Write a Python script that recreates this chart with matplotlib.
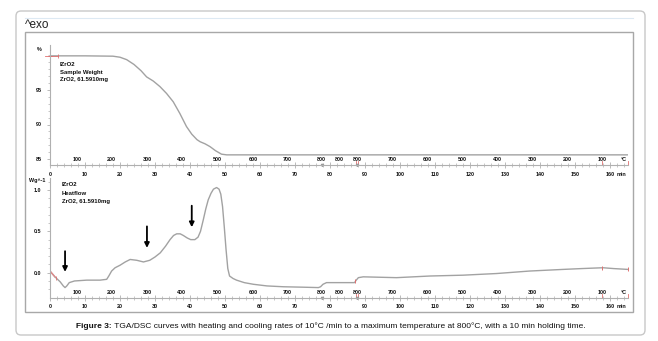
import matplotlib
matplotlib.use('Agg')
import matplotlib.pyplot as plt
from matplotlib.patches import FancyBboxPatch, Rectangle
from matplotlib.lines import Line2D
from matplotlib.transforms import IdentityTransform
from matplotlib.ticker import FixedLocator

plt.rcParams['font.family'] = ['Liberation Sans', 'DejaVu Sans']

# ---------------- data ----------------
tga_time = [0, 10, 18, 20, 21.9, 24, 26, 27.6, 29.5, 31.4, 33.3, 35.2, 37.1, 39.0,
            40.5, 42.0, 42.9, 44.3, 45.7, 47.3, 49.0, 50.5, 165]
tga_weight = [99.95, 99.95, 99.9, 99.75, 99.4, 98.7, 97.8, 96.9, 96.3, 95.5, 94.5, 93.3,
              91.6, 89.7, 88.6, 87.8, 87.5, 87.2, 86.8, 86.2, 85.7, 85.6, 85.6]

dsc_time = [0, 1.4, 2.9, 3.8, 4.3, 4.8, 5.5, 7.0, 10.5, 14.3, 16.2, 16.8, 17.6, 18.6,
            20.0, 21.5, 22.9, 24.8, 26.7, 28.5, 30.0, 31.5, 33.0, 34.3, 35.3, 36.2,
            37.2, 38.1, 39.2, 40.2, 41.4, 42.3, 43.0, 43.8, 44.5, 45.2, 46.0, 46.7,
            47.6, 48.3, 48.8, 49.3, 49.8, 50.3, 50.8, 51.3, 52.3, 53.3, 55.5, 58.1,
            62.0, 66.7, 72.0, 76.7, 77.3, 78.0, 79.0, 80.0, 87.0, 87.5, 88.1, 89.5,
            99.0, 108.6, 118.0, 127.6, 137.0, 146.7, 152.0, 158.0, 161.0, 165.0]
dsc_heatflow = [0.02, -0.05, -0.11, -0.16, -0.18, -0.16, -0.12, -0.10, -0.09, -0.09,
                -0.08, -0.04, 0.02, 0.06, 0.09, 0.13, 0.16, 0.15, 0.13, 0.15, 0.19,
                0.24, 0.32, 0.40, 0.45, 0.47, 0.47, 0.45, 0.42, 0.40, 0.40, 0.43,
                0.50, 0.64, 0.77, 0.88, 0.96, 1.01, 1.03, 1.01, 0.95, 0.80, 0.55,
                0.28, 0.05, -0.04, -0.07, -0.09, -0.12, -0.14, -0.16, -0.17, -0.175,
                -0.18, -0.17, -0.14, -0.12, -0.12, -0.12, -0.09, -0.06, -0.05, -0.06,
                -0.04, -0.03, -0.01, 0.02, 0.04, 0.05, 0.06, 0.05, 0.04]

time_ticks = [0, 10, 20, 30, 40, 50, 60, 70, 80, 90, 100, 110, 120, 130, 140, 150, 160]
temp_tick_times = [7.8, 17.5, 27.7, 37.6, 47.8, 58.0, 67.8, 77.6, 82.7, 87.8, 97.7,
                   107.7, 117.7, 127.7, 137.7, 147.7, 157.7]
temp_tick_labels = ['100', '200', '300', '400', '500', '600', '700', '800', '800', '800',
                    '700', '600', '500', '400', '300', '200', '100']
tga_yticks = [85, 90, 95]
dsc_yticks = [0.0, 0.5, 1.0]
arrow_times = [4.3, 27.7, 40.5]
arrow_starts = [0.26, 0.56, 0.81]
arrow_ends = [0.01, 0.30, 0.55]

legend_top = ['IZrO2', 'Sample Weight', 'ZrO2, 61.5910mg']
legend_bot = ['IZrO2', 'Heatflow', 'ZrO2, 61.5910mg']

# ---------------- figure ----------------
W, H = 658, 341
fig = plt.figure(figsize=(W / 100, H / 100), dpi=100)
fig.patch.set_facecolor('white')
ident = IdentityTransform()


def pix_rect(x0, y0, x1, y1):
    return [x0 / W, 1 - y1 / H, (x1 - x0) / W, (y1 - y0) / H]


# outer rounded box
fig.patches.append(FancyBboxPatch((16, H - 335), 629, 324,
                                  boxstyle='round,pad=0,rounding_size=5',
                                  transform=ident, facecolor='white',
                                  edgecolor='#c8c8c8', lw=1.0, zorder=-3))
# faint blue line under top
fig.lines.append(Line2D([25, 633], [H - 18, H - 18], transform=ident,
                        color='#dde9f3', lw=0.8, zorder=-2))
# inner frame
fig.patches.append(Rectangle((25, H - 312), 608, 280, transform=ident,
                             facecolor='white', edgecolor='#a8a8a8', lw=1.0,
                             zorder=-2))

fig.text(25 / W, 1 - 25 / H, '^exo', fontsize=8.5, ha='left', va='center',
         color='#222222')

line_col = '#a2a2a2'
axis_col = '#b0b0b0'
num_fs = 3.9
XMAX = (628 - 50) / 3.5


def style_axes(ax):
    ax.set_xlim(0, XMAX)
    ax.patch.set_alpha(0)
    for s in ['top', 'right']:
        ax.spines[s].set_visible(False)
    for s in ['left', 'bottom']:
        ax.spines[s].set_color(axis_col)
        ax.spines[s].set_linewidth(0.8)
    ax.xaxis.set_major_locator(FixedLocator(time_ticks))
    ax.xaxis.set_minor_locator(FixedLocator([t for t in range(0, 166, 2)]))
    ax.tick_params(axis='x', which='major', direction='inout', length=4,
                   color=axis_col, width=0.6, labelbottom=False)
    ax.tick_params(axis='x', which='minor', direction='inout', length=2.5,
                   color=axis_col, width=0.5)
    ax.tick_params(axis='y', which='major', direction='out', length=2.5,
                   color=axis_col, width=0.6, labelsize=num_fs, pad=3.5,
                   labelcolor='#111111')
    ax.tick_params(axis='y', which='minor', direction='out', length=1.8,
                   color=axis_col, width=0.5)
    xt = ax.get_xaxis_transform()
    # time labels below
    for t in time_ticks:
        ax.annotate(str(t), xy=(t, 0), xycoords=xt, xytext=(0, -9 * 0.72),
                    textcoords='offset points', ha='center', va='center',
                    fontsize=num_fs, fontweight='bold', color='#111111')
    ax.annotate('min', xy=(162.0, 0), xycoords=xt, xytext=(0, -9 * 0.72),
                textcoords='offset points', ha='left', va='center',
                fontsize=num_fs, fontweight='bold', color='#111111')
    # temperature labels above
    for t, lab in zip(temp_tick_times, temp_tick_labels):
        ax.annotate(lab, xy=(t, 0), xycoords=xt, xytext=(0, 5.5 * 0.72),
                    textcoords='offset points', ha='center', va='center',
                    fontsize=num_fs, fontweight='bold', color='#111111')
    ax.annotate('°C', xy=(163.8, 0), xycoords=xt, xytext=(0, 5.5 * 0.72),
                textcoords='offset points', ha='center', va='center',
                fontsize=num_fs, fontweight='bold', color='#111111')
    # red segment markers on the axis
    for t in [87.3, 88.0, 157.8, 165.0]:
        ax.plot([t, t], [0, 0.03], transform=xt, color='#e07070', lw=0.6,
                clip_on=False)
    for t in [77.6, 87.8]:
        ax.plot([t], [0], transform=xt, marker='v', ms=1.6, color='#999999',
                clip_on=False)


# ---- top panel (TGA) ----
ax1 = fig.add_axes(pix_rect(50, 45, 628, 165))
top_lo = 85 - (165 - 159) / 6.9
top_hi = 85 + (159 - 45) / 6.9
ax1.set_ylim(top_lo, top_hi)
style_axes(ax1)
ax1.yaxis.set_major_locator(FixedLocator(tga_yticks))
ax1.yaxis.set_minor_locator(FixedLocator([v for v in range(85, 101)]))
ax1.set_yticklabels([str(v) for v in tga_yticks], fontweight='bold')
ax1.plot(tga_time, tga_weight, color=line_col, lw=1.0)
ax1.plot([0], [tga_weight[0]], marker='+', ms=3.5, color='#e07070', mew=0.7,
         clip_on=False)
ax1.plot([-1.5, 2.2], [tga_weight[0], tga_weight[0]], color='#e07070', lw=0.6,
         clip_on=False)
ax1.plot([2.2], [tga_weight[0]], marker='|', ms=3, color='#e07070', mew=0.6)
ax1.text(-3.2, 100.9, '%', fontsize=num_fs, fontweight='bold', ha='center',
         va='center', color='#111111')
for i, s in enumerate(legend_top):
    ax1.annotate(s, xy=(60 / W, 1 - (65 + 7.5 * i) / H), xycoords='figure fraction',
                 ha='left', va='center', fontsize=4.3, fontweight='bold',
                 color='#111111')

# ---- bottom panel (DSC) ----
ax2 = fig.add_axes(pix_rect(50, 178, 628, 297.7))
bot_lo = (272.7 - 297.7) / 82.7
bot_hi = (272.7 - 178) / 82.7
ax2.set_ylim(bot_lo, bot_hi)
style_axes(ax2)
ax2.yaxis.set_major_locator(FixedLocator(dsc_yticks))
ax2.yaxis.set_minor_locator(FixedLocator([i / 10 for i in range(-2, 12)]))
ax2.set_yticklabels(['%.1f' % v for v in dsc_yticks], fontweight='bold')
ax2.plot(dsc_time, dsc_heatflow, color=line_col, lw=1.0)
ax2.plot(dsc_time[:2], dsc_heatflow[:2], color='#e08a8a', lw=1.0)
ax2.plot([1.6], [-0.06], marker='|', ms=3, color='#e07070', mew=0.6)
for t, v in [(87.2, -0.10), (157.8, 0.06), (165.0, 0.04)]:
    ax2.plot([t], [v], marker='|', ms=3, color='#e07070', mew=0.7)
ax2.text(-1.4, 1.11, 'Wg^-1', fontsize=num_fs, fontweight='bold', ha='right',
         va='center', color='#111111')
for i, s in enumerate(legend_bot):
    ax2.annotate(s, xy=(62 / W, 1 - (185 + 8.5 * i) / H), xycoords='figure fraction',
                 ha='left', va='center', fontsize=4.3, fontweight='bold',
                 color='#111111')
for t, v0, v1 in zip(arrow_times, arrow_starts, arrow_ends):
    ax2.annotate('', xy=(t, v1), xytext=(t, v0),
                 arrowprops=dict(arrowstyle='-|>', color='black', lw=1.3,
                                 mutation_scale=7, shrinkA=0, shrinkB=0))

# ---- caption ----
cap_bold = 'Figure 3:'
cap_rest = (' TGA/DSC curves with heating and cooling rates of 10°C /min to a maximum '
            'temperature at 800°C, with a 10 min holding time.')
cap_fs = 6.05
r = fig.canvas.get_renderer()
tb = fig.text(0, 0, cap_bold, fontsize=cap_fs, fontweight='bold')
tr = fig.text(0, 0, cap_rest, fontsize=cap_fs)
wb = tb.get_window_extent(r).width
wr = tr.get_window_extent(r).width
x0 = 330.5 - (wb + wr) / 2
yc = 1 - 326 / H
tb.set_position((x0 / W, yc))
tb.set_va('center')
tr.set_position(((x0 + wb) / W, yc))
tr.set_va('center')
tb.set_color('#111111')
tr.set_color('#111111')

fig.savefig('out.png', dpi=100)
